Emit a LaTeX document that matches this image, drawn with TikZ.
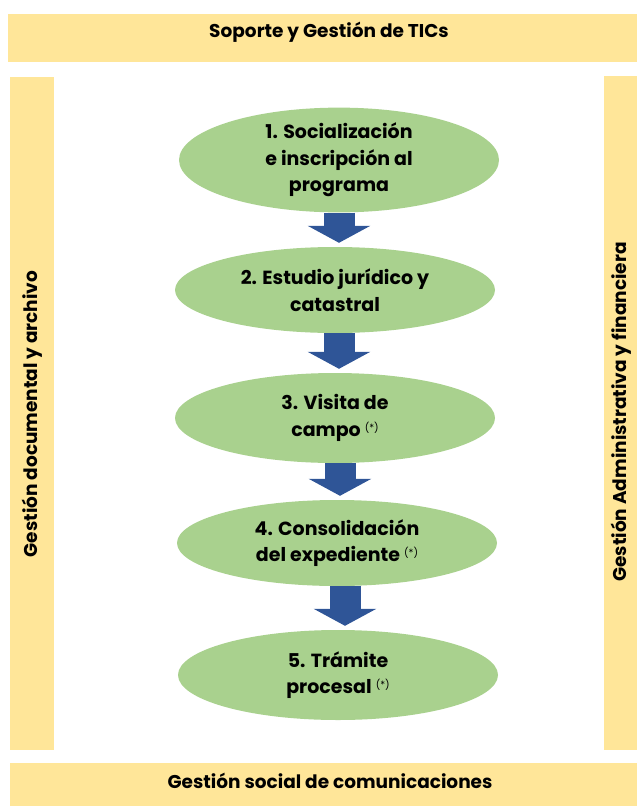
\documentclass[tikz,border=0pt]{standalone}
\usepackage{fontspec}
\setmainfont{Poppins}
\usetikzlibrary{shapes.geometric,arrows.meta}
\definecolor{bandyellow}{HTML}{FFE699}
\definecolor{stepgreen}{HTML}{A9D18E}
\definecolor{arrowblue}{HTML}{2F5597}
\tikzset{
  band/.style={fill=bandyellow, draw=none},
  bandtext/.style={font=\fontsize{18.5}{22}\selectfont\bfseries, text=black},
  stepnode/.style={ellipse, fill=stepgreen, draw=none, minimum width=320pt, minimum height=90pt, inner sep=0pt, align=center, font=\fontsize{19}{26.5}\selectfont\bfseries},
  blockarrow/.style={arrowblue, line width=31pt, line cap=butt, -{Triangle[length=17pt,width=62pt]}, shorten >=4pt}
}
\newcommand{\astmark}{\raisebox{5pt}{\fontsize{10}{10}\selectfont\mdseries(*)}}
\begin{document}
\begin{tikzpicture}[x=1pt,y=-1pt]
\useasboundingbox (0,0) rectangle (637,806);
% bands
\fill[band] (8,14) rectangle (637,62);
\node[bandtext] (top) at (329,32) {Soporte y Gestión de TICs};
\fill[band] (10,77) rectangle (54,750);
\node[bandtext, rotate=90] (left) at (32,414) {Gestión documental y archivo};
\fill[band] (604,76) rectangle (637,750);
\node[bandtext, rotate=90] (right) at (621,412) {Gestión Administrativa y financiera};
\fill[band] (10,763) rectangle (637,806);
\node[bandtext] (bottom) at (330,781) {Gestión social de comunicaciones};
% steps
\node[stepnode] (s1) at (339,160) {1. Socialización\\e inscripción al\\programa};
\node[stepnode, minimum height=86pt] (s2) at (335,290) {2. Estudio jurídico y\\catastral};
\node[stepnode] (s3) at (335,418) {3. Visita de\\campo \astmark};
\node[stepnode, minimum height=86pt] (s4) at (337,543) {4. Consolidación\\del expediente \astmark};
\node[stepnode] (s5) at (338,675) {5. Trámite\\procesal \astmark};
% arrows
\draw[blockarrow] (s1.south -| 339,0) -- (s2.north -| 339,0);
\draw[blockarrow] (s2.south -| 339,0) -- (s3.north -| 339,0);
\draw[blockarrow] (s3.south -| 340,0) -- (s4.north -| 340,0);
\draw[blockarrow] (s4.south -| 345,0) -- (s5.north -| 345,0);
\end{tikzpicture}
\end{document}
